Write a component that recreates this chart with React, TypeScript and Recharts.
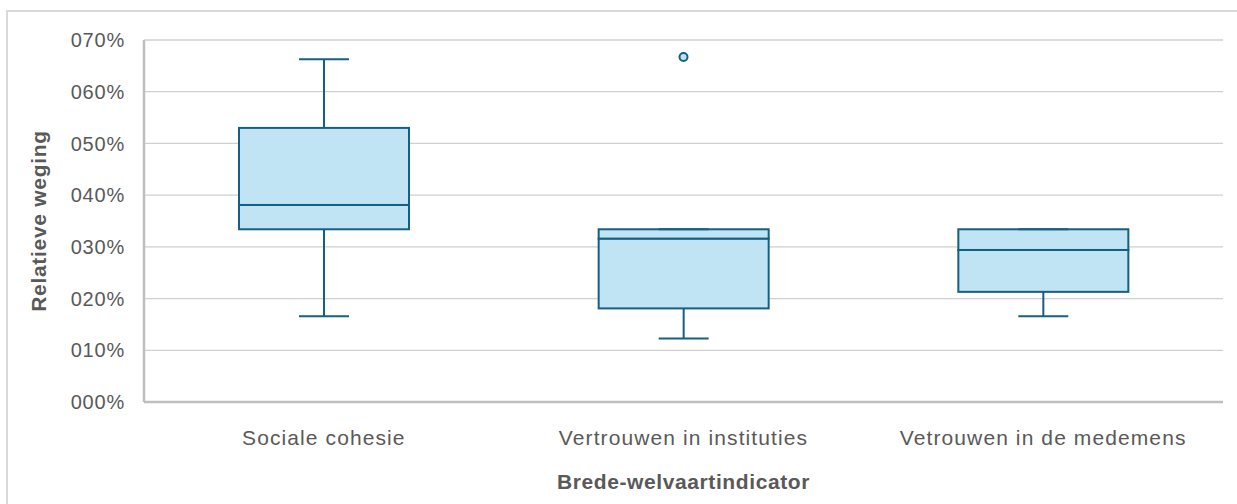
import React from "react";
import { ComposedChart, Bar, Scatter, XAxis, YAxis, CartesianGrid } from "recharts";

const categories = ["Sociale cohesie", "Vertrouwen in instituties", "Vetrouwen in de medemens"];
const minValues = [16.6, 12.3, 16.6];
const q1Values = [33.4, 18.1, 21.3];
const medianValues = [38.1, 31.6, 29.4];
const q3Values = [53.0, 33.4, 33.4];
const maxValues = [66.3, 33.4, 33.4];
const outlierValues: (number | null)[] = [null, 66.7, null];
const yTicks = [0, 10, 20, 30, 40, 50, 60, 70];

const BOX_FILL = "#C1E4F5";
const BOX_STROKE = "#156082";
const TEXT = "#595959";

const data = categories.map((name, i) => ({
	name,
	base: minValues[i],
	lowWhisker: q1Values[i] - minValues[i],
	lowBox: medianValues[i] - q1Values[i],
	highBox: q3Values[i] - medianValues[i],
	highWhisker: maxValues[i] - q3Values[i],
	outlier: outlierValues[i],
}));

const CAP = 50;

function Whisker(props: any, capAtTop: boolean) {
	const { x, y, width, height } = props;
	if (height == null || isNaN(y)) return null;
	const cx = x + width / 2;
	const capY = capAtTop ? y : y + height;
	return (
		<g>
			<line x1={cx} x2={cx} y1={y} y2={y + height} stroke={BOX_STROKE} strokeWidth={2} />
			<line x1={cx - CAP / 2} x2={cx + CAP / 2} y1={capY} y2={capY} stroke={BOX_STROKE} strokeWidth={2} />
		</g>
	);
}

function BoxPart(props: any) {
	const { x, y, width, height } = props;
	if (height == null || isNaN(y)) return null;
	return <rect x={x} y={y} width={width} height={height} fill={BOX_FILL} stroke={BOX_STROKE} strokeWidth={2} />;
}

function OutlierDot(props: any) {
	const { cx, cy, payload } = props;
	if (payload == null || payload.outlier == null || isNaN(cy)) return null;
	return <circle cx={cx} cy={cy} r={4} fill={BOX_FILL} stroke={BOX_STROKE} strokeWidth={2} />;
}

const fmt = (v: number) => String(v).padStart(3, "0") + "%";

export default function App() {
	return (
		<div style={{ position: "absolute", left: 0, top: 0, width: 1237, height: 504, overflow: "hidden", background: "#fff" }}>
			<div
				style={{
					position: "absolute",
					left: 6,
					top: 10,
					width: 1300,
					height: 600,
					border: "2px solid #d9d9d9",
				}}
			/>
			<div style={{ position: "absolute", left: 0, top: 0 }}>
				<ComposedChart
					width={1237}
					height={504}
					data={data}
					margin={{ top: 40, right: 14, bottom: 0, left: 0 }}
					barSize={170}
					style={{ fontFamily: "'Liberation Sans', Arial, sans-serif" }}
				>
					<CartesianGrid vertical={false} stroke="#d0d0d0" strokeWidth={1.3} />
					<XAxis
						dataKey="name"
						type="category"
						height={102}
						axisLine={{ stroke: "#bfbfbf", strokeWidth: 2.5 }}
						tickLine={false}
						tickSize={0}
						tickMargin={28}
						tick={{ fill: TEXT, fontSize: 21, letterSpacing: 1.1 }}
						label={(p: any) => {
							const vb = p.viewBox || {};
							return (
								<text
									x={vb.x + vb.width / 2}
									y={489}
									textAnchor="middle"
									fill={TEXT}
									fontSize={21}
									fontWeight="bold"
									letterSpacing={0.6}
								>
									Brede-welvaartindicator
								</text>
							);
						}}
					/>
					<YAxis
						width={144}
						domain={[0, 70]}
						ticks={yTicks}
						interval={0}
						tickFormatter={fmt}
						axisLine={{ stroke: "#bfbfbf", strokeWidth: 2.5 }}
						tickLine={false}
						tickSize={0}
						tickMargin={19}
						tick={{ fill: TEXT, fontSize: 20, letterSpacing: 0.8 }}
						label={(p: any) => {
							const vb = p.viewBox || {};
							const cy = vb.y + vb.height / 2;
							return (
								<text
									x={38}
									y={cy}
									transform={`rotate(-90 38 ${cy})`}
									textAnchor="middle"
									dominantBaseline="central"
									fill={TEXT}
									fontSize={21}
									fontWeight="bold"
									letterSpacing={0.7}
								>
									Relatieve weging
								</text>
							);
						}}
					/>
					<Bar dataKey="base" stackId="box" fill="none" isAnimationActive={false} />
					<Bar dataKey="lowWhisker" stackId="box" isAnimationActive={false} shape={(p: any) => Whisker(p, false)} />
					<Bar dataKey="lowBox" stackId="box" isAnimationActive={false} shape={BoxPart} />
					<Bar dataKey="highBox" stackId="box" isAnimationActive={false} shape={BoxPart} />
					<Bar dataKey="highWhisker" stackId="box" isAnimationActive={false} shape={(p: any) => Whisker(p, true)} />
					<Scatter dataKey="outlier" isAnimationActive={false} shape={OutlierDot} />
				</ComposedChart>
			</div>
		</div>
	);
}
